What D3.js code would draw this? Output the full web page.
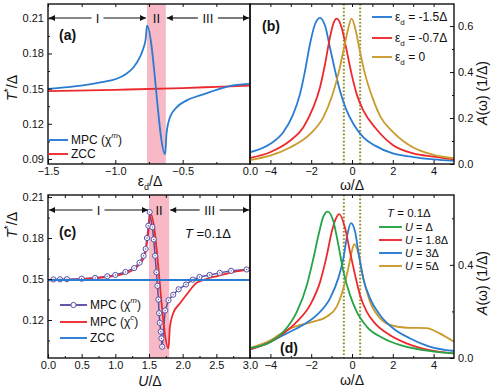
<html>
<head>
<style>
  body { margin: 0; background: white; font-family: "Liberation Sans", Arial, Helvetica, sans-serif; }
  svg text { fill: #111; }
</style>
<script src="https://cdn.jsdelivr.net/npm/d3@7"></script>
</head>
<body>
<svg id="chart" width="498" height="392"></svg>
<script>
// ---- data ----
// panel (a): T*/Δ vs ε_d/Δ
const bandA = [-0.765, -0.625]
const regionsA = [["I", -1.5, -0.765], ["II", -0.765, -0.625], ["III", -0.625, 0]]
const mpcA = [[-1.5,0.1498],[-1.35,0.1512],[-1.24,0.1527],[-1.1,0.1555],[-0.99,0.1584],[-0.92,0.1625],
  [-0.866,0.168],[-0.817,0.177],[-0.79,0.185],[-0.775,0.192],[-0.765,0.2038],[-0.63,0.094],
  [-0.62,0.1116],[-0.594,0.1257],[-0.545,0.134],[-0.47,0.140],[-0.371,0.1442],[-0.248,0.149],
  [-0.124,0.1527],[0,0.1540]]
const zccA = [[-1.5,0.1478],[-1.0,0.1490],[-0.5,0.1505],[-0.25,0.1515],[0,0.1525]]

// panel (b): A(ω) for three ε_d
const namesB = ["-1.5Δ", "-0.7Δ", "0"]
const curveB1 = [[-5,0.051],[-4.02,0.087],[-3.37,0.138],[-2.88,0.217],[-2.55,0.304],[-2.3,0.406],[-2.06,0.522],
  [-1.81,0.609],[-1.57,0.636],[-1.32,0.601],[-1.08,0.507],[-0.83,0.406],[-0.59,0.319],[-0.26,0.232],
  [0.07,0.174],[0.56,0.116],[1.13,0.080],[2,0.046],[3,0.030],[4,0.020],[5,0.014]]
const curveB2 = [[-5,0.026],[-4.02,0.051],[-3.04,0.101],[-2.39,0.159],[-1.9,0.246],[-1.57,0.333],[-1.32,0.435],
  [-1.08,0.551],[-0.92,0.609],[-0.75,0.632],[-0.51,0.594],[-0.26,0.493],[-0.02,0.391],[0.23,0.304],
  [0.56,0.232],[1.13,0.159],[2,0.083],[3,0.046],[4,0.032],[5,0.020]]
const curveB3 = [[-5,0.017],[-4.02,0.036],[-3.04,0.072],[-2.06,0.130],[-1.41,0.203],[-1.0,0.290],[-0.67,0.391],
  [-0.42,0.493],[-0.21,0.580],[-0.02,0.632],[0.18,0.582],[0.38,0.493],[0.64,0.391],[1.0,0.290],
  [1.4,0.205],[2.0,0.140],[3.0,0.072],[4.0,0.040],[5.0,0.025]]
const dotLines = [-0.4, 0.4]

// panel (c): T*/Δ vs U/Δ
const bandC = [1.5, 1.8]
const regionsC = [["I", 0, 1.5], ["II", 1.5, 1.8], ["III", 1.8, 3.0]]
const mpcMC = [[0.08,0.1497],[0.18,0.1498],[0.28,0.1499],[0.5,0.1502],[0.7,0.1508],[0.88,0.152],[1.0,0.153],
  [1.15,0.1552],[1.28,0.158],[1.36,0.162],[1.42,0.167],[1.45,0.172],[1.47,0.18],[1.49,0.189],[1.51,0.199],
  [1.55,0.188],[1.57,0.179],[1.59,0.167],[1.61,0.155],[1.625,0.145],[1.64,0.135],[1.65,0.125],[1.66,0.118],
  [1.675,0.1115],[1.685,0.1065],[1.695,0.1005],[1.74,0.127],[1.79,0.1345],[1.86,0.1385],[1.94,0.1425],
  [2.05,0.146],[2.15,0.1495],[2.25,0.1515],[2.4,0.153],[2.55,0.1545],[2.72,0.156],[2.95,0.157]]
const mpcCC = [[0,0.149],[0.5,0.150],[1.0,0.1525],[1.2,0.155],[1.3,0.158],[1.38,0.162],[1.44,0.168],
  [1.48,0.18],[1.525,0.1975],[1.79,0.0993],[1.81,0.115],[1.86,0.125],[1.96,0.1322],[2.08,0.140],
  [2.2,0.147],[2.35,0.150],[2.5,0.152],[2.75,0.155],[3.0,0.157]]
const zccC = [[0,0.1493],[3,0.1493]]

// panel (d): A(ω) for four U
const namesD = ["Δ", "1.8Δ", "3Δ", "5Δ"]
const curveD1 = [[-5,0.042],[-3.98,0.070],[-3.35,0.113],[-2.7,0.199],[-2.21,0.314],[-1.89,0.429],[-1.64,0.529],
  [-1.4,0.608],[-1.19,0.629],[-0.91,0.586],[-0.67,0.486],[-0.42,0.371],[-0.1,0.271],[0.23,0.199],
  [0.72,0.135],[1.53,0.085],[2.34,0.056],[3.48,0.034],[5,0.020]]
const curveD2 = [[-5,0.037],[-3.98,0.070],[-3.35,0.106],[-2.7,0.156],[-2.05,0.228],[-1.56,0.328],[-1.23,0.443],
  [-0.99,0.543],[-0.78,0.601],[-0.62,0.618],[-0.34,0.558],[-0.1,0.457],[0.15,0.357],[0.39,0.271],
  [0.72,0.199],[1.2,0.142],[1.85,0.099],[2.67,0.063],[3.8,0.034],[5,0.020]]
const curveD3 = [[-5,0.037],[-3.98,0.070],[-3.35,0.099],[-2.54,0.135],[-1.72,0.185],[-1.07,0.257],[-0.67,0.343],
  [-0.42,0.429],[-0.23,0.529],[-0.05,0.579],[0.15,0.543],[0.31,0.457],[0.55,0.343],[0.88,0.257],
  [1.37,0.185],[2.01,0.128],[2.83,0.085],[3.8,0.049],[5,0.030]]
const curveD4 = [[-5,0.043],[-3.98,0.077],[-3.35,0.113],[-2.54,0.142],[-1.89,0.156],[-1.23,0.178],[-0.75,0.221],
  [-0.42,0.300],[-0.18,0.386],[-0.01,0.457],[0.11,0.489],[0.31,0.450],[0.55,0.343],[0.88,0.242],
  [1.37,0.171],[1.85,0.142],[2.67,0.130],[3.64,0.128],[4.29,0.106],[5,0.070]]

// ---- colours ----
const BLUE = "#2a7cd3", RED = "#ec2a2e", GOLD = "#c99b2c", GREEN = "#24a447", PURPLE = "#5a4fa6"
const PINK = "#f7b9c5", OLIVE = "#8c8a1c"

const svg = d3.select("#chart")
const defs = svg.append("defs")
defs.append("marker").attr("id", "arr").attr("viewBox", "0 0 10 10").attr("refX", 10).attr("refY", 5)
  .attr("markerWidth", 8).attr("markerHeight", 6).attr("markerUnits", "userSpaceOnUse").attr("orient", "auto")
  .append("path").attr("d", "M0,0L10,5L0,10z").attr("fill", "#111")

function makePanel(box, xd, yd) {
  let x = d3.scaleLinear().domain(xd).range([box.x0, box.x1])
  let y = d3.scaleLinear().domain(yd).range([box.y1, box.y0])
  let g = svg.append("g")
  let clipId = "clip" + Math.round(box.x0) + "_" + Math.round(box.y0)
  defs.append("clipPath").attr("id", clipId).append("rect")
    .attr("x", box.x0).attr("y", box.y0).attr("width", box.x1 - box.x0).attr("height", box.y1 - box.y0)
  let plot = g.append("g").attr("clip-path", `url(#${clipId})`)
  return {x, y, g, plot, box}
}

function ticks(p, opt) {
  let {x, y, g, box} = p
  let style = sel => {
    sel.select(".domain").remove()
    sel.selectAll("line").attr("stroke", "#111").attr("stroke-width", 1)
    sel.selectAll("text").attr("font-size", 11).attr("fill", "#111")
  }
  // x major/minor, bottom and top
  g.append("g").attr("transform", `translate(0,${box.y1})`)
    .call(d3.axisBottom(x).tickValues(opt.xMajor).tickSize(-4).tickSizeOuter(0).tickPadding(3)
      .tickFormat(opt.xFmt)).call(style)
  g.append("g").attr("transform", `translate(0,${box.y1})`)
    .call(d3.axisBottom(x).tickValues(opt.xMinor).tickSize(-2).tickSizeOuter(0).tickFormat("")).call(style)
  g.append("g").attr("transform", `translate(0,${box.y0})`)
    .call(d3.axisTop(x).tickValues(opt.xMajor.concat(opt.xMinor)).tickSize(-3).tickSizeOuter(0).tickFormat("")).call(style)
  // y
  let yAx = opt.yRight ? d3.axisRight : d3.axisLeft
  let yPos = opt.yRight ? box.x1 : box.x0
  g.append("g").attr("transform", `translate(${yPos},0)`)
    .call(yAx(y).tickValues(opt.yMajor).tickSize(-4).tickSizeOuter(0).tickPadding(4).tickFormat(opt.yFmt)).call(style)
  g.append("g").attr("transform", `translate(${yPos},0)`)
    .call(yAx(y).tickValues(opt.yMinor).tickSize(-2).tickSizeOuter(0).tickFormat("")).call(style)
}

function frame(p) {
  let b = p.box
  p.g.append("rect").attr("x", b.x0).attr("y", b.y0).attr("width", b.x1 - b.x0).attr("height", b.y1 - b.y0)
    .attr("fill", "none").attr("stroke", "#111").attr("stroke-width", 1.4)
}

function drawLine(p, data, color, width, curve) {
  let line = d3.line().x(d => p.x(d[0])).y(d => p.y(d[1])).curve(curve || d3.curveMonotoneX)
  p.plot.append("path").datum(data).attr("d", line).attr("fill", "none")
    .attr("stroke", color).attr("stroke-width", width || 1.8).attr("stroke-linejoin", "round")
}

function band(p, b) {
  p.plot.append("rect").attr("x", p.x(b[0])).attr("y", p.box.y0).attr("width", p.x(b[1]) - p.x(b[0]))
    .attr("height", p.box.y1 - p.box.y0).attr("fill", PINK)
}

function regions(p, regs, yPx) {
  regs.forEach((r, i) => {
    let a = p.x(r[1]), b = p.x(r[2]), m = (a + b) / 2
    p.g.append("text").attr("x", m).attr("y", yPx + 4.5).attr("text-anchor", "middle")
      .attr("font-size", 13).text(r[0])
    if (r[0] == "II") return
    let gap = r[0] == "I" ? 6 : 10
    p.g.append("line").attr("x1", m - gap).attr("x2", a + 1).attr("y1", yPx).attr("y2", yPx)
      .attr("stroke", "#111").attr("stroke-width", 1.1).attr("marker-end", "url(#arr)")
    p.g.append("line").attr("x1", m + gap).attr("x2", b - 1).attr("y1", yPx).attr("y2", yPx)
      .attr("stroke", "#111").attr("stroke-width", 1.1).attr("marker-end", "url(#arr)")
  })
}

function tLabel(xc, yc) {
  let t = svg.append("text").attr("transform", `translate(${xc},${yc}) rotate(-90)`)
    .attr("text-anchor", "middle").attr("font-size", 14)
  t.append("tspan").attr("font-style", "italic").text("T")
  t.append("tspan").attr("font-size", 11).attr("dy", -5).text("*")
  t.append("tspan").attr("dy", 5).text("/Δ")
}

function aLabel(xc, yc) {
  let t = svg.append("text").attr("transform", `translate(${xc},${yc}) rotate(-90)`)
    .attr("text-anchor", "middle").attr("font-size", 14)
  t.append("tspan").attr("font-style", "italic").text("A")
  t.append("tspan").text("(ω) (1/Δ)")
}

function legendRow(x1, x2, yy, color, parts, fs) {
  svg.append("line").attr("x1", x1).attr("x2", x2).attr("y1", yy).attr("y2", yy)
    .attr("stroke", color).attr("stroke-width", 1.9)
  let t = svg.append("text").attr("x", x2 + 3).attr("y", yy + 4).attr("font-size", fs || 12)
  parts.forEach(pp => {
    let s = t.append("tspan").text(pp.t)
    if (pp.dy) s.attr("dy", pp.dy)
    if (pp.size) s.attr("font-size", pp.size)
    if (pp.it) s.attr("font-style", "italic")
  })
  return t
}

function panelTag(x, y, s) {
  svg.append("text").attr("x", x).attr("y", y).attr("font-size", 14).attr("font-weight", "bold").text(s)
}

// ---- panel (a) ----
let pa = makePanel({x0: 48, x1: 250, y0: 4, y1: 164}, [-1.5, 0], [0.0857, 0.2222])
band(pa, bandA)
drawLine(pa, zccA, RED)
drawLine(pa, mpcA, BLUE)
ticks(pa, {xMajor: [-1.5, -1.0, -0.5, 0], xMinor: [-1.25, -0.75, -0.25], xFmt: d3.format(".1f"),
  yMajor: [0.09, 0.12, 0.15, 0.18, 0.21], yMinor: [0.105, 0.135, 0.165, 0.195], yFmt: d3.format(".2f")})
frame(pa)
regions(pa, regionsA, 18)
panelTag(59, 40, "(a)")
legendRow(48, 68, 140, BLUE, [{t: "MPC (χ"}, {t: "m", size: 8, dy: -6, it: true}, {t: ")", dy: 6}])
legendRow(48, 68, 154, RED, [{t: "ZCC"}])
tLabel(17, 88)
{
  let t = svg.append("text").attr("x", 150).attr("y", 186).attr("text-anchor", "middle").attr("font-size", 14)
  t.append("tspan").text("ε")
  t.append("tspan").attr("font-size", 9).attr("dy", 4).text("d")
  t.append("tspan").attr("dy", -4).text("/Δ")
}

// ---- panel (b) ----
let pb = makePanel({x0: 250, x1: 454, y0: 4, y1: 164}, [-5, 5], [0, 0.696])
dotLines.forEach(v => pb.plot.append("line").attr("x1", pb.x(v)).attr("x2", pb.x(v)).attr("y1", pb.box.y0)
  .attr("y2", pb.box.y1).attr("stroke", OLIVE).attr("stroke-width", 2).attr("stroke-dasharray", "1.6,2"))
drawLine(pb, curveB1, BLUE)
drawLine(pb, curveB2, RED)
drawLine(pb, curveB3, GOLD)
ticks(pb, {xMajor: [-4, -2, 0, 2, 4], xMinor: [-3, -1, 1, 3], xFmt: d3.format("d"),
  yMajor: [0, 0.2, 0.4, 0.6], yMinor: [0.1, 0.3, 0.5], yFmt: d3.format(".1f"), yRight: true})
frame(pb)
panelTag(262, 31, "(b)")
;[BLUE, RED, GOLD].forEach((c, i) => legendRow(372, 392, [17, 38, 57][i], c,
  [{t: "ε"}, {t: "d", size: 8, dy: 4}, {t: " = " + namesB[i], dy: -4}]))
aLabel(487, 93)
svg.append("text").attr("x", 352).attr("y", 190).attr("text-anchor", "middle").attr("font-size", 14).text("ω/Δ")

// ---- panel (c) ----
let pc = makePanel({x0: 48, x1: 250, y0: 195, y1: 358}, [0, 3], [0.0922, 0.2115])
band(pc, bandC)
drawLine(pc, mpcMC, PURPLE, 1.5, d3.curveLinear)
drawLine(pc, mpcCC, RED)
pc.plot.selectAll("circle.m").data(mpcMC).enter().append("circle").attr("class", "m")
  .attr("cx", d => pc.x(d[0])).attr("cy", d => pc.y(d[1])).attr("r", 2.6)
  .attr("fill", "white").attr("stroke", PURPLE).attr("stroke-width", 1)
pc.plot.selectAll("circle.c").data(mpcMC).enter().append("circle").attr("class", "c")
  .attr("cx", d => pc.x(d[0])).attr("cy", d => pc.y(d[1])).attr("r", 0.7).attr("fill", PURPLE)
drawLine(pc, zccC, BLUE, 1.8, d3.curveLinear)
ticks(pc, {xMajor: [0, 0.5, 1.0, 1.5, 2.0, 2.5, 3.0], xMinor: [0.25, 0.75, 1.25, 1.75, 2.25, 2.75],
  xFmt: d3.format(".1f"), yMajor: [0.12, 0.15, 0.18, 0.21], yMinor: [0.105, 0.135, 0.165, 0.195],
  yFmt: d3.format(".2f")})
frame(pc)
regions(pc, regionsC, 210)
panelTag(59, 237, "(c)")
{
  let t = svg.append("text").attr("x", 185).attr("y", 238).attr("font-size", 13)
  t.append("tspan").attr("font-style", "italic").text("T")
  t.append("tspan").text(" =0.1Δ")
}
legendRow(60, 87, 305, PURPLE, [{t: "MPC (χ"}, {t: "m", size: 8, dy: -6, it: true}, {t: ")", dy: 6}])
svg.append("circle").attr("cx", 73.5).attr("cy", 305).attr("r", 2.6).attr("fill", "white")
  .attr("stroke", PURPLE).attr("stroke-width", 1)
legendRow(60, 87, 322, RED, [{t: "MPC (χ"}, {t: "c", size: 8, dy: -6, it: true}, {t: ")", dy: 6}])
legendRow(60, 87, 338, BLUE, [{t: "ZCC"}])
tLabel(17, 225)
{
  let t = svg.append("text").attr("x", 150).attr("y", 386).attr("text-anchor", "middle").attr("font-size", 14)
  t.append("tspan").attr("font-style", "italic").text("U")
  t.append("tspan").text("/Δ")
}

// ---- panel (d) ----
let pd = makePanel({x0: 250, x1: 454, y0: 195, y1: 358}, [-5, 5], [0, 0.70])
dotLines.forEach(v => pd.plot.append("line").attr("x1", pd.x(v)).attr("x2", pd.x(v)).attr("y1", pd.box.y0)
  .attr("y2", pd.box.y1).attr("stroke", OLIVE).attr("stroke-width", 2).attr("stroke-dasharray", "1.6,2"))
drawLine(pd, curveD4, GOLD)
drawLine(pd, curveD3, BLUE)
drawLine(pd, curveD2, RED)
drawLine(pd, curveD1, GREEN)
ticks(pd, {xMajor: [-4, -2, 0, 2, 4], xMinor: [-3, -1, 1, 3], xFmt: d3.format("d"),
  yMajor: [0, 0.4], yMinor: [0.2, 0.6], yFmt: d3.format(".1f"), yRight: true})
frame(pd)
panelTag(280, 353, "(d)")
{
  let t = svg.append("text").attr("x", 387).attr("y", 217).attr("font-size", 11.5)
  t.append("tspan").attr("font-style", "italic").text("T")
  t.append("tspan").text(" = 0.1Δ")
}
;[GREEN, RED, BLUE, GOLD].forEach((c, i) => legendRow(379, 402, [227, 240, 253, 266][i], c,
  [{t: "U", it: true}, {t: " = " + namesD[i]}], 11))
aLabel(487, 283)
svg.append("text").attr("x", 352).attr("y", 385).attr("text-anchor", "middle").attr("font-size", 14).text("ω/Δ")
</script>
</body>
</html>
